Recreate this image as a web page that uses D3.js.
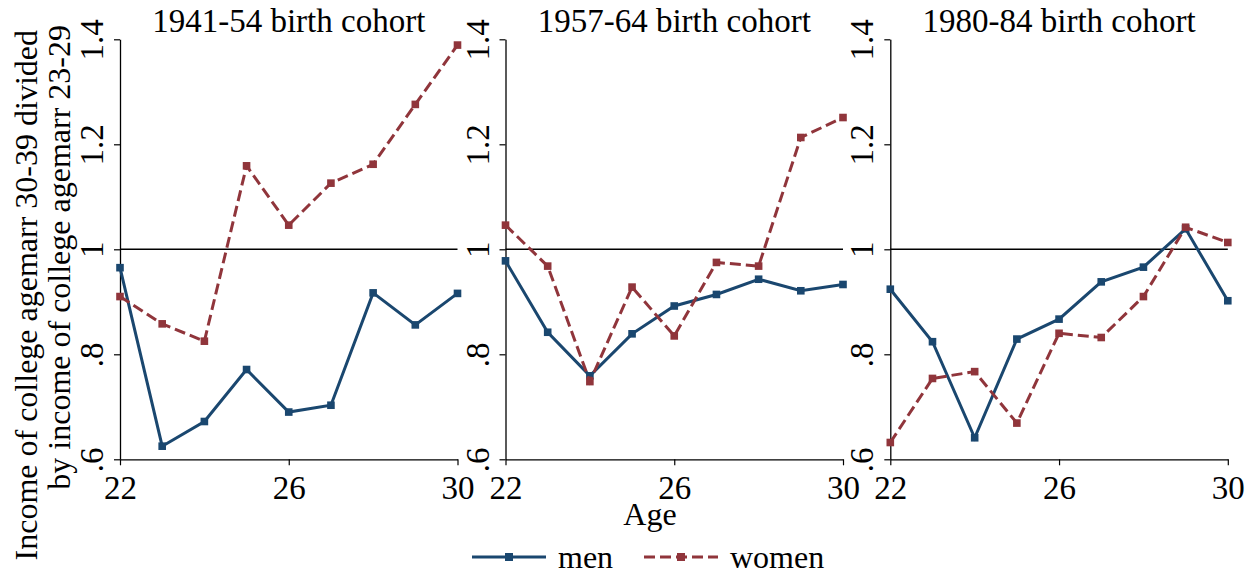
<!DOCTYPE html>
<html>
<head>
<meta charset="utf-8">
<script src="https://cdn.jsdelivr.net/npm/d3@7"></script>
<style>
  body { margin: 0; background: #fff; }
  svg text { font-family: "Liberation Serif", "Times New Roman", Tinos, "DejaVu Serif", "Noto Serif", serif; }
</style>
</head>
<body>
<div id="chart"></div>
<script>
const ages = [22, 23, 24, 25, 26, 27, 28, 29, 30];
const cohorts = ["1941-54 birth cohort", "1957-64 birth cohort", "1980-84 birth cohort"];
const xTicks = [22, 26, 30];
const yTicks = [0.6, 0.8, 1.0, 1.2, 1.4];
const yTickLabels = [".6", ".8", "1", "1.2", "1.4"];

const men1 = [0.965, 0.625, 0.672, 0.771, 0.690, 0.703, 0.917, 0.856, 0.916];
const women1 = [0.910, 0.858, 0.825, 1.159, 1.046, 1.126, 1.162, 1.276, 1.389];
const men2 = [0.978, 0.842, 0.759, 0.839, 0.892, 0.914, 0.943, 0.921, 0.933];
const women2 = [1.046, 0.968, 0.748, 0.928, 0.835, 0.975, 0.968, 1.213, 1.251];
const men3 = [0.924, 0.824, 0.641, 0.829, 0.867, 0.938, 0.966, 1.039, 0.902];
const women3 = [0.632, 0.754, 0.767, 0.669, 0.840, 0.832, 0.910, 1.042, 1.013];

const menSeries = [men1, men2, men3];
const womenSeries = [women1, women2, women3];

const navy = "#1a476f", maroon = "#90353b";
const W = 1255, H = 575;
const fs = 33;

const svg = d3.select("#chart").append("svg")
    .attr("width", W).attr("height", H);

const y = d3.scaleLinear()
    .domain([0.6, 1.4])
    .range([459.3, 39.3]);

const panelLeft = [120, 505.5, 890.3],
    panelWidth = 337.5;

cohorts.forEach(function(title, i) {
    const x = d3.scaleLinear()
        .domain([22, 30])
        .range([panelLeft[i], panelLeft[i] + panelWidth]);

    const g = svg.append("g");

    // x axis
    const xa = g.append("g")
        .attr("transform", "translate(0," + y(0.6) + ")")
        .call(d3.axisBottom(x).tickValues(xTicks).tickSize(6).tickSizeOuter(0));
    xa.attr("font-family", null);
    xa.select(".domain").attr("stroke", "#000").attr("stroke-width", 1.3);
    xa.selectAll(".tick line").attr("stroke-width", 1.2);
    xa.selectAll("text").attr("font-size", fs)
        .attr("fill", "#000").attr("dy", null).attr("y", 40);

    // y axis
    const ya = g.append("g")
        .attr("transform", "translate(" + x(22) + ",0)")
        .call(d3.axisLeft(y).tickValues(yTicks).tickSize(6).tickSizeOuter(0)
            .tickFormat(function(d, j) { return yTickLabels[j]; }));
    ya.attr("font-family", null);
    ya.select(".domain").attr("stroke", "#000").attr("stroke-width", 1.3);
    ya.selectAll(".tick line").attr("stroke-width", 1.2);
    ya.selectAll("text")
        .attr("font-size", fs).attr("fill", "#000")
        .attr("x", null).attr("dy", null)
        .attr("text-anchor", "middle")
        .attr("transform", "translate(-17,0) rotate(-90)");

    // reference line at 1
    g.append("line")
        .attr("x1", x(22)).attr("x2", x(30))
        .attr("y1", y(1)).attr("y2", y(1))
        .attr("stroke", "#000").attr("stroke-width", 1.4);

    const line = d3.line()
        .x(function(d, k) { return x(ages[k]); })
        .y(function(d) { return y(d); });

    [[menSeries[i], navy, null], [womenSeries[i], maroon, "11,5"]].forEach(function(s) {
        g.append("path")
            .datum(s[0])
            .attr("d", line)
            .attr("fill", "none")
            .attr("stroke", s[1])
            .attr("stroke-width", 3)
            .attr("stroke-dasharray", s[2]);
        g.selectAll(null)
            .data(s[0])
            .enter().append("rect")
            .attr("x", function(d, k) { return x(ages[k]) - 3.8; })
            .attr("y", function(d) { return y(d) - 3.8; })
            .attr("width", 7.6).attr("height", 7.6)
            .attr("fill", s[1]);
    });

    g.append("text")
        .attr("x", panelLeft[i] + panelWidth / 2)
        .attr("y", 32)
        .attr("text-anchor", "middle")
        .attr("font-size", fs)
        .text(title);
});

// y axis title
const yt = svg.append("text")
    .attr("transform", "translate(37,30) rotate(-90)")
    .attr("text-anchor", "end")
    .attr("font-size", 32);
yt.append("tspan").attr("x", 0).attr("y", 0).text("Income of college agemarr 30-39 divided");
yt.append("tspan").attr("x", 5).attr("y", 33).text("by income of college agemarr 23-29");

// x axis title
svg.append("text")
    .attr("x", 650).attr("y", 525)
    .attr("text-anchor", "middle")
    .attr("font-size", 32)
    .text("Age");

// legend
const legend = [
    {label: "men", color: navy, dash: null, x0: 472},
    {label: "women", color: maroon, dash: "11,5", x0: 644}
];
legend.forEach(function(d) {
    const lg = svg.append("g");
    lg.append("line")
        .attr("x1", d.x0).attr("x2", d.x0 + 74)
        .attr("y1", 557).attr("y2", 557)
        .attr("stroke", d.color).attr("stroke-width", 3)
        .attr("stroke-dasharray", d.dash);
    lg.append("rect")
        .attr("x", d.x0 + 37 - 4).attr("y", 557 - 4)
        .attr("width", 8).attr("height", 8)
        .attr("fill", d.color);
    lg.append("text")
        .attr("x", d.x0 + 86).attr("y", 568)
        .attr("font-size", 32)
        .text(d.label);
});
</script>
</body>
</html>
